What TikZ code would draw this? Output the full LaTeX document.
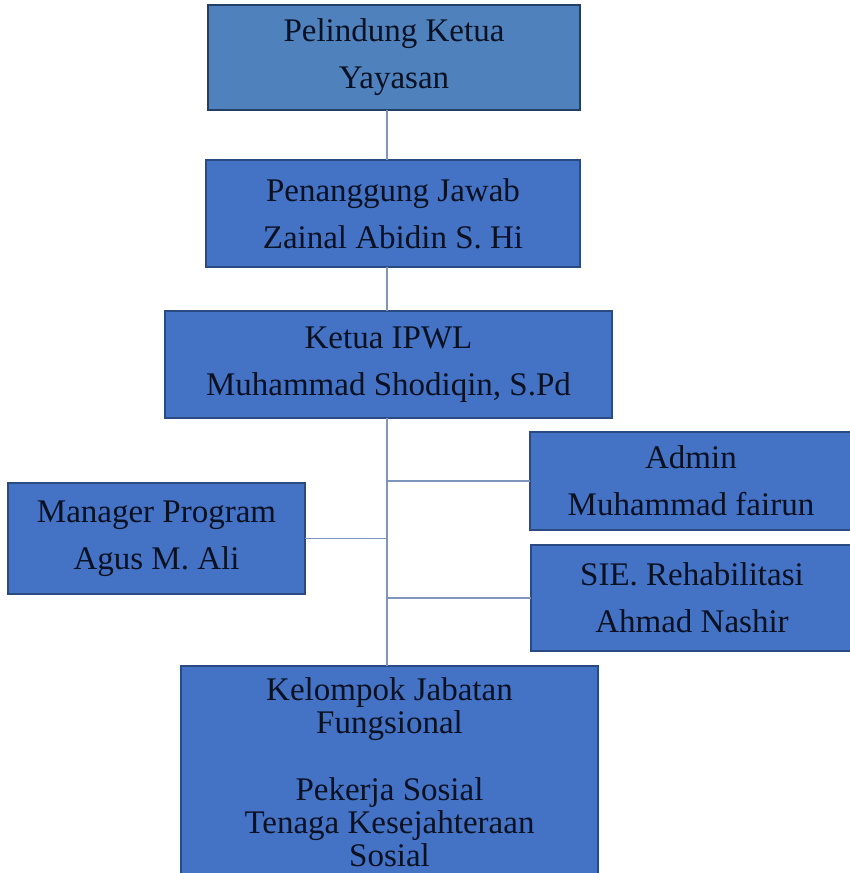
\documentclass[tikz,border=0pt]{standalone}
\usepackage{fontspec}
\setmainfont{Liberation Serif}
\begin{document}
\definecolor{topfill}{HTML}{4F81BD}
\definecolor{topline}{HTML}{243F66}
\definecolor{boxfill}{HTML}{4472C4}
\definecolor{boxline}{HTML}{2A4A82}
\definecolor{linkcol}{HTML}{7E96BC}
\definecolor{inkcol}{HTML}{0A1122}
\begin{tikzpicture}[x=1pt,y=-1pt,
  orgbox/.style={draw=boxline,fill=boxfill,line width=2.6pt,inner sep=0pt,outer sep=0pt,
    align=center,text=inkcol,font=\fontsize{33}{47}\selectfont},
  headbox/.style={orgbox,draw=topline,fill=topfill},
  link/.style={draw=linkcol,line width=1.1pt}]
  \useasboundingbox (0,0) rectangle (850,873);
  \fill[white] (0,0) rectangle (850,873);

  % boxes of the chart
  \node[headbox,minimum width=372pt,minimum height=105pt] (top) at (394,57.5) {Pelindung Ketua\\Yayasan};
  \node[orgbox,minimum width=374pt,minimum height=107pt] (pj) at (393,213.5) {Penanggung Jawab\\Zainal Abidin S. Hi};
  \node[orgbox,minimum width=447pt,minimum height=107pt] (ketua) at (388.5,364.5) {Ketua IPWL\\Muhammad Shodiqin, S.Pd};
  \node[orgbox,minimum width=297pt,minimum height=111pt] (mgr) at (156.5,538.5) {Manager Program\\Agus M. Ali};
  \node[orgbox,minimum width=330pt,minimum height=98pt] (adm) at (695,481) {\hspace*{-8pt}Admin\\\hspace*{-8pt}Muhammad fairun};
  \node[orgbox,minimum width=330pt,minimum height=106pt] (sie) at (696,598) {\hspace*{-8pt}SIE. Rehabilitasi\\\hspace*{-8pt}Ahmad Nashir};
  \node[orgbox,font=\fontsize{33}{33}\selectfont,minimum width=417pt,inner ysep=12pt,anchor=north] (kel) at (389.5,666)
    {Kelompok Jabatan\\Fungsional\\[34pt]Pekerja Sosial\\Tenaga Kesejahteraan\\Sosial};

  % reporting lines
  \coordinate (trunk) at (387,0);
  \draw[link] (top.south -| trunk) -- (pj.north -| trunk);
  \draw[link] (pj.south -| trunk) -- (ketua.north -| trunk);
  \draw[link] (ketua.south -| trunk) -- (kel.north -| trunk);
  \draw[link] (adm.west) -- (adm.west -| trunk);
  \draw[link] (mgr.east) -- (mgr.east -| trunk);
  \draw[link] (sie.west) -- (sie.west -| trunk);
\end{tikzpicture}
\end{document}
